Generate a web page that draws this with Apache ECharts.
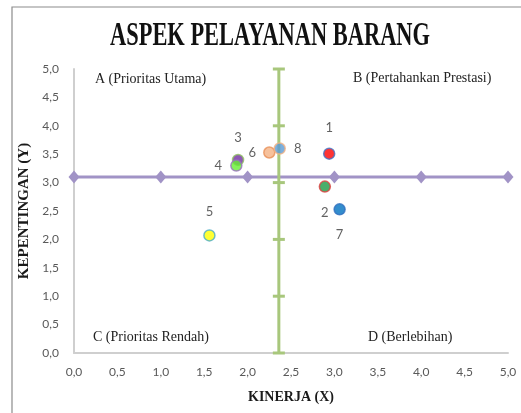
<!DOCTYPE html>
<html>
<head>
<meta charset="utf-8">
<script src="https://cdn.jsdelivr.net/npm/echarts@6/dist/echarts.min.js"></script>
<style>html,body{margin:0;padding:0;background:#fff}#c{width:521px;height:413px}</style>
</head>
<body>
<div id="c"></div>
<script>
// ---- data ----
const pointLabels = ['1','2','3','4','5','6','7','8'];
const kinerja =     [2.94, 2.89, 1.89, 1.87, 1.56, 2.25, 3.06, 2.37];
const kepentingan = [3.51, 2.93, 3.40, 3.30, 2.07, 3.53, 2.53, 3.60];
const meanX = 2.36;
const meanY = 3.1;
const hLineX = [0, 1, 2, 3, 4, 5];
const vLineY = [0, 1, 2, 3, 4, 5];
const xTicks = ['0,0','0,5','1,0','1,5','2,0','2,5','3,0','3,5','4,0','4,5','5,0'];
const yTicks = ['0,0','0,5','1,0','1,5','2,0','2,5','3,0','3,5','4,0','4,5','5,0'];
const quadrants = ['A (Prioritas Utama)','B (Pertahankan Prestasi)','C (Prioritas Rendah)','D (Berlebihan)'];

// ---- styles ----
const fills =   ['#ff0000','#1d9a46','#7030a0','#66ee33','#ffff00','#f4b183','#0070c0','#5b9bd5'];
const borders = ['#4472c4','#e04040','#8fbf60','#9a70c0','#4bacc6','#e8915a','#2f6fbf','#f4b183'];
const labelPos = [
  {position:'top', distance:13},
  {position:'bottom', distance:13},
  {position:'top', distance:9},
  {position:'left', distance:8},
  {position:'top', distance:11},
  {position:'left', distance:7},
  {position:'bottom', distance:13},
  {position:'right', distance:8}
];

const chart = echarts.init(document.getElementById('c'), null, {renderer:'canvas'});
const tickFmt = arr => (v => { const i = Math.round(v / 0.5); return arr[i] !== undefined ? arr[i] : ''; });

const pts = kinerja.map((x, i) => ({
  value: [x, kepentingan[i]],
  itemStyle: {color: fills[i], borderColor: borders[i], borderWidth: 1.5},
  label: Object.assign({show: true, formatter: pointLabels[i]}, labelPos[i])
}));

chart.setOption({
  animation: false,
  grid: {left: 74, right: 13, top: 69, bottom: 60},
  xAxis: {
    type: 'value', min: 0, max: 5, interval: 0.5,
    name: 'KINERJA (X)', nameLocation: 'middle', nameGap: 37,
    nameTextStyle: {fontFamily: 'Liberation Serif', fontWeight: 'bold', fontSize: 14, color: '#1a1a1a'},
    axisLine: {show: true, lineStyle: {color: '#cfcfcf', width: 2}},
    axisTick: {show: false},
    splitLine: {show: false},
    axisLabel: {formatter: tickFmt(xTicks), margin: 13, fontFamily: 'Lato', fontSize: 12, color: '#595959'}
  },
  yAxis: {
    type: 'value', min: 0, max: 5, interval: 0.5,
    name: 'KEPENTINGAN (Y)', nameLocation: 'middle', nameGap: 34,
    nameTextStyle: {fontFamily: 'Liberation Serif', fontWeight: 'bold', fontSize: 15, color: '#1a1a1a'},
    axisLine: {show: true, lineStyle: {color: '#cfcfcf', width: 2}},
    axisTick: {show: false},
    splitLine: {show: false},
    axisLabel: {formatter: tickFmt(yTicks), margin: 15, fontFamily: 'Lato', fontSize: 12, color: '#595959'}
  },
  graphic: [
    {type: 'rect', shape: {x: 12, y: 7, width: 540, height: 440}, style: {fill: 'none', stroke: '#8c8c8c', lineWidth: 1.2}, z: -1, silent: true},
    {type: 'text', x: 270, y: 36, scaleX: 0.68, scaleY: 1,
     style: {text: 'ASPEK PELAYANAN BARANG', font: 'bold 33px "Liberation Serif"', fill: '#111', textAlign: 'center', textVerticalAlign: 'middle'}},
    {type: 'text', x: 95, y: 79, style: {text: quadrants[0], font: '14px "Liberation Serif"', fill: '#222', textAlign: 'left', textVerticalAlign: 'middle'}},
    {type: 'text', x: 353, y: 78, style: {text: quadrants[1], font: '14px "Liberation Serif"', fill: '#222', textAlign: 'left', textVerticalAlign: 'middle'}},
    {type: 'text', x: 93, y: 337, style: {text: quadrants[2], font: '14px "Liberation Serif"', fill: '#222', textAlign: 'left', textVerticalAlign: 'middle'}},
    {type: 'text', x: 368, y: 337, style: {text: quadrants[3], font: '14px "Liberation Serif"', fill: '#222', textAlign: 'left', textVerticalAlign: 'middle'}}
  ],
  series: [
    {
      type: 'line', z: 2,
      data: hLineX.map(x => [x, meanY]),
      symbol: 'diamond', symbolSize: [11, 13],
      lineStyle: {color: '#a193c6', width: 3},
      itemStyle: {color: '#a193c6'}
    },
    {
      type: 'line', z: 3,
      data: vLineY.map(y => [meanX, y]),
      symbol: 'rect', symbolSize: [12, 3],
      lineStyle: {color: '#a8c77c', width: 3},
      itemStyle: {color: '#a8c77c'}
    },
    {
      type: 'scatter', z: 5,
      symbolSize: 11,
      data: pts,
      label: {fontFamily: 'Lato', fontSize: 13, color: '#3a3a3a'}
    }
  ]
});
</script>
</body>
</html>
